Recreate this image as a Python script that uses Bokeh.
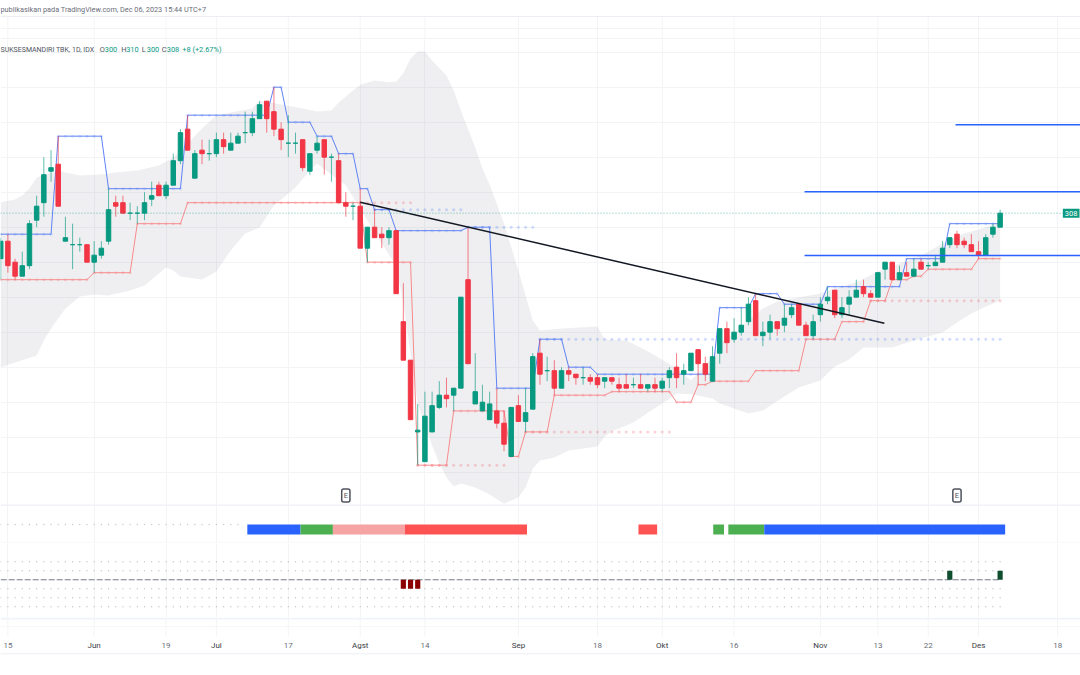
# Candlestick chart with channel, band and two small panes below it
import numpy as np

from bokeh.core.properties import value
from bokeh.embed import file_html
from bokeh.layouts import column
from bokeh.models import FixedTicker, Grid, Label, Range1d, Span
from bokeh.plotting import figure
from bokeh.resources import INLINE

# Data, one entry per trading day
opens = [
    282, 292, 280, 272, 278, 304, 314, 332, 336, 292, 290, 290, 290, 280, 284, 292, 314, 314, 308, 308,
    308, 316, 324, 318, 324, 338, 356, 328, 344, 342, 342, 350, 344, 348, 354, 354, 362, 372, 366, 356,
    348, 348, 350, 332, 344, 350, 340, 338, 314, 312, 312, 288, 300, 296, 294, 298, 246, 224, 183, 166,
    183, 197, 204, 204, 208, 270, 199, 195, 190, 195, 188, 169, 198, 189, 196, 228, 218, 218, 208, 218,
    216, 214, 214, 214, 212, 214, 210, 210, 210, 210, 208, 210, 208, 214, 220, 216, 218, 230, 222, 212,
    228, 242, 236, 240, 246, 258, 238, 240, 246, 244, 250, 256, 244, 238, 250, 258, 264, 250, 256, 260,
    266, 262, 260, 276, 280, 270, 274, 272, 280, 278, 278, 280, 290, 296, 292, 290, 286, 284, 296, 300,
]
closes = [
    292, 278, 272, 278, 302, 312, 330, 334, 312, 294, 290, 290, 280, 284, 288, 310, 312, 308, 308, 308,
    314, 318, 318, 324, 338, 354, 344, 342, 342, 342, 350, 346, 348, 352, 354, 362, 370, 362, 356, 350,
    348, 348, 334, 342, 348, 340, 340, 314, 312, 312, 288, 300, 294, 294, 298, 262, 224, 190, 184, 192,
    198, 204, 202, 208, 260, 222, 206, 200, 199, 188, 176, 197, 189, 194, 226, 216, 218, 208, 218, 216,
    214, 214, 212, 210, 214, 212, 208, 208, 210, 208, 210, 208, 212, 218, 214, 218, 228, 222, 216, 226,
    242, 234, 240, 244, 256, 238, 240, 246, 242, 248, 254, 244, 238, 246, 256, 260, 250, 254, 260, 264,
    262, 260, 274, 280, 270, 274, 272, 276, 276, 278, 280, 288, 294, 290, 290, 286, 284, 294, 300, 308,
]
highs = [
    294, 296, 282, 286, 304, 318, 340, 344, 352, 306, 302, 294, 290, 292, 292, 322, 318, 318, 314, 312,
    320, 326, 326, 326, 342, 356, 364, 344, 350, 350, 354, 354, 354, 354, 366, 366, 372, 372, 380, 360,
    364, 354, 350, 342, 352, 350, 342, 342, 320, 314, 322, 300, 310, 300, 300, 298, 268, 224, 199, 206,
    206, 212, 214, 208, 260, 300, 228, 210, 206, 208, 195, 197, 204, 208, 228, 236, 226, 224, 220, 220,
    216, 220, 216, 216, 214, 214, 214, 216, 214, 216, 210, 214, 214, 220, 228, 222, 228, 230, 226, 232,
    242, 246, 248, 254, 260, 262, 246, 250, 246, 256, 256, 256, 246, 250, 260, 266, 264, 260, 264, 270,
    270, 264, 274, 280, 280, 278, 280, 282, 282, 280, 284, 292, 294, 298, 294, 296, 292, 296, 302, 310,
]
lows = [
    270, 274, 270, 272, 276, 300, 306, 326, 312, 292, 276, 286, 280, 274, 282, 290, 306, 308, 304, 302,
    304, 312, 318, 316, 324, 336, 344, 328, 336, 338, 340, 342, 344, 348, 348, 352, 362, 354, 352, 344,
    340, 342, 332, 330, 342, 330, 326, 314, 306, 304, 288, 280, 294, 288, 290, 262, 224, 190, 164, 166,
    183, 196, 197, 195, 208, 222, 199, 195, 190, 185, 172, 169, 189, 183, 196, 210, 212, 204, 208, 212,
    210, 210, 210, 208, 208, 210, 206, 208, 208, 208, 206, 206, 206, 208, 208, 210, 218, 210, 212, 212,
    222, 228, 234, 238, 244, 238, 232, 236, 238, 240, 248, 244, 238, 236, 246, 256, 248, 248, 250, 260,
    260, 260, 260, 270, 270, 270, 272, 272, 276, 276, 278, 280, 288, 288, 288, 286, 282, 284, 294, 300,
]
upper_line = [
    296, 296, 296, 296, 296, 296, 296, 296, 352, 352, 352, 352, 352, 352, 352, 322, 322, 322, 322, 322,
    322, 322, 322, 322, 322, 322, 364, 364, 364, 364, 364, 364, 364, 364, 364, 364, 364, 364, 380, 380,
    360, 360, 360, 360, 352, 352, 352, 342, 342, 342, 322, 322, 310, 310, 310, 298, 298, 298, 298, 298,
    298, 298, 298, 298, 298, 300, 300, 300, 300, 208, 208, 208, 208, 208, 208, 236, 236, 236, 236, 220,
    220, 220, 220, 216, 216, 216, 216, 216, 216, 216, 216, 216, 216, 216, 216, 216, 216, 216, 216, 216,
    254, 254, 254, 254, 254, 262, 262, 262, 262, 256, 256, 256, 256, 256, 256, 266, 266, 266, 266, 266,
    266, 266, 266, 266, 266, 266, 282, 282, 282, 282, 282, 282, 302, 302, 302, 302, 302, 302, 302, 302,
]
lower_line = [
    270, 270, 270, 270, 270, 270, 270, 270, 270, 270, 270, 270, 270, 274, 274, 274, 274, 274, 274, 302,
    302, 302, 302, 302, 302, 302, 314, 314, 314, 314, 314, 314, 314, 314, 314, 314, 314, 314, 314, 314,
    314, 314, 314, 314, 314, 314, 314, 314, 314, 314, 314, 280, 280, 280, 280, 280, 280, 280, 164, 164,
    164, 164, 164, 195, 195, 195, 195, 195, 195, 195, 195, 169, 169, 183, 183, 183, 183, 204, 204, 204,
    204, 204, 204, 204, 204, 206, 206, 206, 206, 206, 206, 206, 206, 206, 200, 200, 200, 210, 210, 212,
    212, 212, 212, 212, 212, 218, 218, 218, 218, 218, 218, 218, 236, 236, 236, 236, 236, 246, 246, 246,
    246, 258, 258, 258, 270, 270, 270, 272, 272, 276, 276, 276, 276, 276, 276, 276, 282, 282, 282, 282,
]

band_upper_day = [
    0, 2, 3, 4, 5, 8, 9, 11, 14, 16, 19, 22, 24, 26, 28, 30, 32, 35, 36, 39, 42, 44, 46, 47, 49, 50, 52, 54,
    55, 56, 57, 58, 59, 60, 62, 63, 64, 66, 67, 68, 70, 72, 74, 75, 78, 83, 84, 87, 89, 91, 94, 96, 99, 100,
    102, 104, 106, 108, 111, 114, 116, 119, 122, 125, 128, 131, 134, 136, 139,
]
band_upper = [
    314.3, 315.8, 318.1, 322.1, 328.4, 332.4, 331.2, 329.5, 330.1, 331.2, 332.4, 335.2, 339.8, 347.8, 356.4,
    363.8, 365.5, 367.8, 372.4, 370.1, 367.8, 366.1, 366.7, 371.2, 378.1, 381.4, 383.8, 382.8, 383.2, 388,
    396.4, 400.4, 400.4, 395.2, 386.7, 378.1, 366.7, 345.5, 333.5, 324.4, 302.1, 275.2, 246.7, 241, 242.1,
    243.2, 235.8, 235.2, 231.2, 226.7, 219.3, 212.4, 225.6, 233.5, 239.2, 246.7, 253.5, 257.5, 259.8, 262.1,
    265, 268.4, 274.7, 279.2, 283.8, 290.7, 296.4, 298.7, 302.7,
]
band_lower_day = [
    0, 2, 5, 6, 7, 9, 11, 13, 15, 18, 20, 23, 24, 25, 28, 30, 32, 34, 36, 38, 41, 43, 44, 48, 50, 52, 55, 56,
    57, 58, 59, 60, 61, 62, 63, 64, 66, 68, 70, 72, 73, 74, 75, 77, 79, 83, 84, 85, 88, 90, 92, 93, 94, 96,
    99, 100, 102, 104, 106, 109, 111, 114, 116, 118, 120, 124, 127, 131, 133, 135, 137, 139,
]
band_lower = [
    220, 222.7, 226.7, 235.2, 242.1, 253.5, 260.4, 261.5, 261, 263.8, 266.7, 277, 275.2, 271.8, 270.1, 274.7,
    286.7, 296.4, 299.8, 312.4, 322.7, 332.4, 336.4, 323.8, 310.7, 297, 278, 256.4, 227.8, 199.3, 186.7,
    175.3, 165, 157, 151.8, 153.5, 151.2, 147.2, 142, 145.5, 151.2, 162, 166.7, 168.4, 172.4, 174.7, 180.4,
    183.3, 188.4, 194, 199.3, 202, 205, 204.5, 202.1, 199.3, 196.4, 193.5, 195.3, 203.2, 208.4, 212.4, 220.4,
    224.4, 231.2, 231.2, 235.2, 239.8, 245.5, 250.7, 254.7, 258.1,
]

# (price, first day, last day) of the levels carried forward as dots
blue_dots = [(310, 52, 64), (300, 65, 74), (236, 75, 139)]
red_dots = [(314, 50, 57), (164, 58, 70), (183, 73, 93), (258, 121, 139)]

trend_day = [50, 122.9]
trend_price = [314.3, 245.1]
level_price = [358.5, 320.2, 283.8]
level_first_day = [132.8, 111.8, 111.8]
earnings_day = [48, 133]

tick_day = [1, 13, 23, 30, 40, 50, 59, 72, 83, 92, 102, 114, 122, 129, 136, 147]
tick_label = ["15", "Jun", "19", "Jul", "17", "Agst", "14", "Sep", "18", "Okt", "16", "Nov", "13", "22", "Des", "18"]
month_labels = ["Jun", "Jul", "Agst", "Sep", "Okt", "Nov", "Des"]
price_grid = [400, 380, 360, 340, 320, 300, 280, 260, 240, 220, 200, 180, 160]

# coloured strip pane, edges in days
strip_left = [34.3, 41.7, 46.2, 56.2, 88.7, 99.1, 101.2, 106.2]
strip_right = [41.7, 46.2, 56.2, 73.2, 91.3, 100.6, 106.2, 139.7]
strip_state = ["up", "weak_up", "weak_down", "down", "down", "weak_up", "weak_up", "up"]
strip_idle_days = 34

# histogram pane
hist_day = [56, 57, 58, 132, 139]
hist_value = [-1, -1, -1, 1, 1]
hist_rows = [2, 1, -1, -2, -3]

title_text = "publikasikan pada TradingView.com, Dec 06, 2023 15:44 UTC+7"
name_text = "SUKSESMANDIRI TBK, 1D, IDX"
ohlc_text = [("O", "300", 99.3), ("H", "310", 120.7), ("L", "300", 141.3), ("C", "308", 161.3)]
change_text = "+8 (+2.67%)"
last_price = 308

# Style
FONT = "Roboto"
GREEN = "#089981"
RED = "#f23645"
GRID = "#f3f4f6"
RULE = "#e0e3eb"
DOT = "#c4c6cc"
STRIP_COLORS = {"up": "#2962ff", "weak_up": "#4caf50", "weak_down": "#f5a3a3", "down": "#ff5252"}

days = np.arange(len(opens))
x_range = Range1d(-0.028, 150.18)


def pane(height, y_range, grid=True):
    p = figure(
        width=1080, height=height, x_range=x_range, y_range=y_range,
        x_axis_location=None, y_axis_location=None,
        output_backend="svg", toolbar_location=None,
        min_border=0, outline_line_color=None,
    )
    p.grid.visible = False
    if grid:
        p.add_layout(Grid(dimension=0, ticker=FixedTicker(ticks=tick_day), grid_line_color=GRID))
    return p


def rule(p, location, color=RULE, width=1):
    p.add_layout(Span(location=location, dimension="width", line_color=color, line_width=width))


def small_text(text, x, y, color, size="7.4px", **kw):
    return Label(
        x=x, y=y, x_units="screen", text=text, text_color=color, text_font=FONT,
        text_font_size=size, text_baseline="middle", **kw
    )


def plot_header():
    # this pane's y axis is just the row on the page
    p = pane(39, Range1d(39, 0), grid=False)
    p.segment(tick_day, 16, tick_day, 39, line_color=GRID)
    rule(p, 16, "#eceef3")
    rule(p, 28, GRID)
    rule(p, 38.6)
    p.add_layout(small_text(title_text, 0, 9.3, "#6a6d78", size="7.3px", text_align="left"))
    return p


def plot_price():
    p = pane(465, Range1d(141.53, 407.24))
    p.add_layout(Grid(dimension=1, ticker=FixedTicker(ticks=price_grid), grid_line_color=GRID))

    p.patch(band_upper_day + band_lower_day[::-1], band_upper + band_lower[::-1],
            fill_color="#787f8e", fill_alpha=0.12, line_color=None)

    for dots, color in ((blue_dots, "#2962ff"), (red_dots, RED)):
        for price, first, last in dots:
            x = days[first:last + 1]
            p.scatter(x, [price] * len(x), size=3, color=color, alpha=0.22, line_color=None)

    p.add_layout(Span(location=last_price, dimension="width", line_color=GREEN, line_alpha=0.6,
                      line_dash=[1, 2]))

    p.scatter(days, upper_line, size=3, color="#2962ff", alpha=0.2, line_color=None)
    p.scatter(days, lower_line, size=3, color=RED, alpha=0.2, line_color=None)
    p.line(days, upper_line, line_color="#5f82f5", line_width=1)
    p.line(days, lower_line, line_color="#f98a8c", line_width=1)

    o = np.array(opens)
    c = np.array(closes)
    colors = [GREEN if up else RED for up in c >= o]
    p.segment(days, highs, days, lows, line_color=colors, line_alpha=0.65)
    p.vbar(days, width=0.62, top=np.maximum(o, c), bottom=np.minimum(o, c),
           fill_color=colors, line_color=colors, line_width=1)

    p.line(trend_day, trend_price, line_color="#131722", line_width=1.5)
    p.segment(level_first_day, level_price, 151, level_price, line_color="#2962ff", line_width=1.4)

    for day in earnings_day:
        p.add_layout(Label(
            x=day, y=146.7, text="E", text_color="#50535e", text_font=FONT, text_font_size="7.5px",
            text_align="center", text_baseline="middle", background_fill_color="white",
            border_line_color="#50535e", border_line_width=1.5, border_radius=2, padding=2,
        ))

    p.add_layout(small_text(name_text, 0, 401.5, "#50535e", size="7px", text_align="left"))
    for letter, val, x in ohlc_text:
        p.add_layout(small_text(letter, x, 401.5, "#50535e", text_align="left"))
        p.add_layout(small_text(val, x + 5, 401.5, GREEN, text_align="left"))
    p.add_layout(small_text(change_text, 181.7, 401.5, GREEN, text_align="left"))

    p.add_layout(Label(
        x=1079, x_units="screen", y=last_price, text=str(last_price), text_color="white", text_font=FONT,
        text_font_size="7.5px", text_align="right", text_baseline="middle",
        background_fill_color=GREEN, padding=2,
    ))
    return p


def plot_strip():
    p = pane(39, Range1d(-0.9, 3.0))
    idle = days[:strip_idle_days]
    p.scatter(idle, [1] * len(idle), size=1.4, color=DOT, line_color=None)
    p.quad(left=strip_left, right=strip_right, bottom=0, top=1,
           fill_color=[STRIP_COLORS[s] for s in strip_state], line_color=None)
    rule(p, 2.96)
    rule(p, -0.85, "#f0f3fa")
    return p


def plot_hist():
    p = pane(74, Range1d(-4.19, 4.03))
    for row in hist_rows:
        p.scatter(days, [row] * len(days), size=1.4, color=DOT, line_color=None)
    p.segment(int(days[0]), 0, int(days[-1]), 0, line_color="#787b86", line_dash="6 2")
    p.vbar(hist_day, width=0.72, top=hist_value, bottom=0,
           fill_color=["#0f4d2f" if v > 0 else "#8b0000" for v in hist_value], line_color=None)
    return p


def plot_axis():
    # as in the header, y here is the row on the page
    p = pane(58, Range1d(675, 617), grid=False)
    p.segment(tick_day, 617, tick_day, 636, line_color=GRID)
    rule(p, 618, "#f0f3fa", 2)
    rule(p, 626, "#f6f7f9")
    rule(p, 653.3, "#eceef2")
    p.text(tick_day, 645, text=tick_label, text_font=value(FONT), text_font_size="8px",
           text_align="center", text_baseline="middle",
           text_color=["#3a3d46" if t in month_labels else "#6a6d78" for t in tick_label])
    return p


layout = column(plot_header(), plot_price(), plot_strip(), plot_hist(), plot_axis(), spacing=0)
open("out.html", "w").write(file_html(layout, INLINE))
